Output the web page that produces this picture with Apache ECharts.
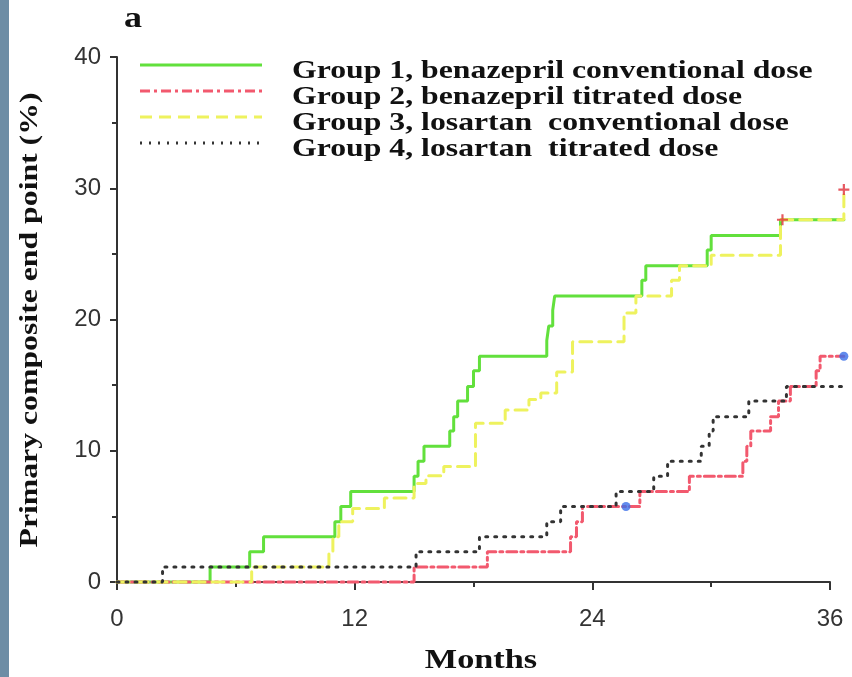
<!DOCTYPE html>
<html><head><meta charset="utf-8">
<script src="https://cdn.jsdelivr.net/npm/echarts@6/dist/echarts.min.js"></script>
<style>html,body{margin:0;padding:0;background:#fff}#c{width:852px;height:677px}</style>
</head><body><div id="c"></div>
<script>
// Kaplan-Meier style step data: [month, cumulative %]
const group1 = [[0,0],[4.7,1.15],[6.7,2.3],[7.4,3.45],[11.0,4.6],[11.3,5.75],[11.8,6.9],[15.0,8.05],[15.2,9.2],[15.5,10.35],[16.8,11.5],[17.0,12.6],[17.2,13.8],[17.7,14.9],[18.0,16.1],[18.3,17.2],[21.7,18.4],[21.8,19.5],[22.0,20.7],[22.1,21.8],[26.5,23.0],[26.7,24.1],[29.8,25.3],[30.0,26.4],[33.5,27.6],[36.7,27.6]];
const group2 = [[0,0],[15.0,1.15],[18.7,2.3],[22.9,3.45],[23.2,4.6],[23.5,5.75],[26.4,6.9],[28.9,8.05],[31.6,9.2],[31.8,10.35],[32.0,11.5],[33.0,12.6],[33.4,13.8],[34.0,14.9],[35.3,16.1],[35.5,17.2],[36.7,17.2]];
const group3 = [[0,0],[6.8,1.15],[10.7,2.3],[10.9,3.45],[11.2,4.6],[11.9,5.6],[13.5,6.4],[15.0,7.5],[15.6,8.1],[16.5,8.8],[18.1,12.1],[19.6,13.1],[20.8,13.9],[21.4,14.4],[22.2,16.0],[23.0,18.3],[25.6,20.5],[26.2,21.8],[28.0,23.0],[28.4,24.1],[30.0,24.9],[33.5,27.6],[36.7,29.9]];
const group4 = [[0,0],[2.3,1.15],[15.1,2.3],[18.3,3.45],[21.7,4.6],[22.4,5.75],[25.2,6.9],[27.1,8.05],[27.8,9.2],[29.5,10.35],[29.9,11.5],[30.1,12.6],[31.9,13.8],[33.8,14.9],[36.7,14.9]];
const redMarks = [[33.6,27.6],[36.7,29.9]];
const blueMarks = [[25.7,5.75],[36.7,17.2]];
const seriesNames = ['Group 1, benazepril conventional dose','Group 2, benazepril titrated dose','Group 3, losartan  conventional dose','Group 4, losartan  titrated dose'];
const xTicks = [0,12,24,36];
const yTicks = [0,10,20,30,40];

const colors = ['#62e03c','#f2596e','#eef25e','#333333'];
const dashes = ['solid',[10,4,3,4],[12,7],[2,7]];

const chart = echarts.init(document.getElementById('c'), null, {renderer:'canvas'});
const serif = '"Liberation Serif","Times New Roman",serif';
const sans = '"Liberation Sans",Arial,sans-serif';
const SX = 1.27; // wide serif lettering in the original

function lineSeries(i, data){
  return {name:seriesNames[i], type:'line', data, step:'end', symbol:'none', showSymbol:false,
    xAxisIndex:1, yAxisIndex:1, clip:false,
    lineStyle:{color:colors[i], width:3, type:dashes[i], cap:'round'}, itemStyle:{color:colors[i]}, z:3};
}
// legend drawn as graphic lines + text
const legendGraphics = [];
const legendLineY = [65, 91, 117, 143];
const legendTextY = [72, 98, 124, 150];
seriesNames.forEach((n, i) => {
  legendGraphics.push({type:'line', shape:{x1:140, y1:legendLineY[i], x2:262, y2:legendLineY[i]},
    style:{stroke:colors[i], lineWidth:3, lineDash: dashes[i]==='solid'? null : dashes[i]}});
  legendGraphics.push({type:'text', x:292, y:legendTextY[i], scaleX:SX,
    style:{text:n, font:'bold 25px '+serif, fill:'#111', textVerticalAlign:'middle', textAlign:'left'}});
});

const axisStyle = {color:'#333', width:2};
chart.setOption({
  animation:false,
  backgroundColor:'#fff',
  grid:[
    {left:117,right:22,top:57,bottom:95},
    {left:117,right:22-0.7*(713/36),top:57,bottom:95}
  ],
  xAxis:[{
    type:'value', min:0, max:36, interval:12, gridIndex:0,
    axisLine:{lineStyle:axisStyle},
    axisTick:{length:8, lineStyle:axisStyle},
    minorTick:{show:true, splitNumber:2, length:5, lineStyle:axisStyle},
    splitLine:{show:false},
    axisLabel:{fontFamily:sans, fontSize:24, color:'#333', margin:25}
  },{
    type:'value', min:0, max:36.7, gridIndex:1, show:false, splitLine:{show:false}
  }],
  yAxis:[{
    type:'value', min:0, max:40, interval:10, gridIndex:0,
    axisLine:{show:true, lineStyle:axisStyle},
    axisTick:{show:true, length:7, lineStyle:axisStyle},
    minorTick:{show:true, splitNumber:2, length:5, lineStyle:axisStyle},
    splitLine:{show:false},
    axisLabel:{fontFamily:sans, fontSize:24, color:'#333', margin:16}
  },{
    type:'value', min:0, max:40, gridIndex:1, show:false, splitLine:{show:false}
  }],
  graphic:[
    {type:'rect', left:0, top:0, shape:{width:9, height:677}, style:{fill:'#6d8da5'}},
    {type:'text', x:124, y:19, scaleX:1.2, style:{text:'a', font:'bold 30px '+serif, fill:'#111', textVerticalAlign:'middle'}},
    {type:'text', x:481, y:661, scaleX:SX, style:{text:'Months', font:'bold 27px '+serif, fill:'#111', textAlign:'center', textVerticalAlign:'middle'}},
    {type:'text', x:31, y:320, rotation:Math.PI/2, scaleX:SX, style:{text:'Primary composite end point (%)', font:'bold 25px '+serif, fill:'#111', textAlign:'center', textVerticalAlign:'middle'}}
  ].concat(legendGraphics),
  series:[
    lineSeries(0, group1),
    lineSeries(1, group2),
    lineSeries(2, group3),
    lineSeries(3, group4),
    {type:'scatter', xAxisIndex:1, yAxisIndex:1, data:redMarks, symbol:'path://M4,0H6V4H10V6H6V10H4V6H0V4H4Z', symbolSize:11, itemStyle:{color:'#e0303a'}, z:5, clip:false},
    {type:'scatter', xAxisIndex:1, yAxisIndex:1, data:blueMarks, symbol:'circle', symbolSize:9, itemStyle:{color:'#3a6ee8'}, z:5, clip:false}
  ]
});
</script></body></html>
